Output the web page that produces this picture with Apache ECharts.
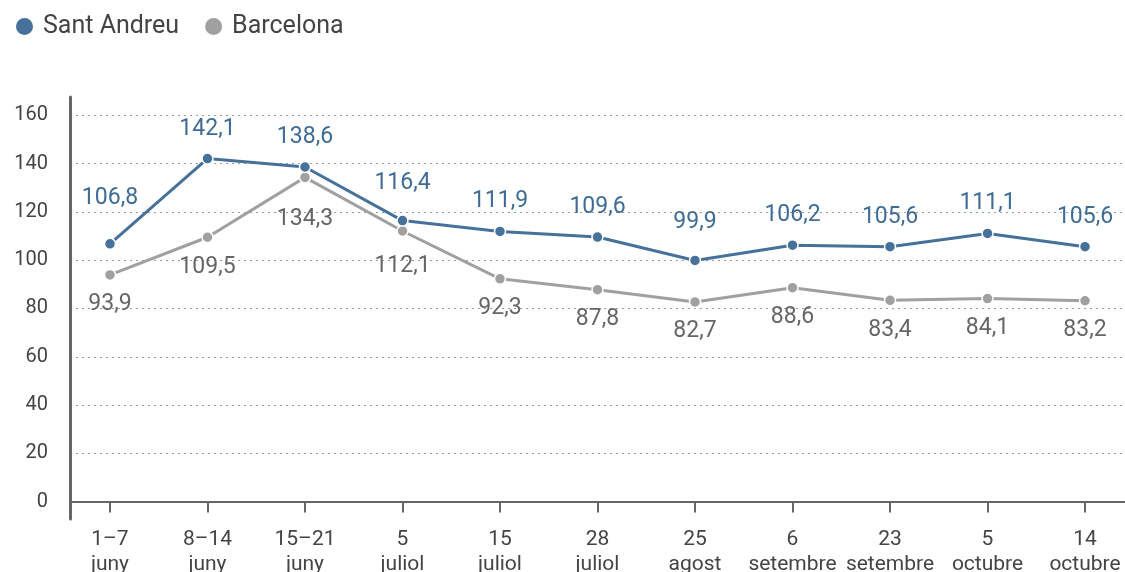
<!DOCTYPE html>
<html>
<head>
<meta charset="utf-8">
<script src="https://cdn.jsdelivr.net/npm/echarts@6/dist/echarts.min.js"></script>
<style>
  html, body { margin: 0; padding: 0; background: #fff; }
  #chart { width: 1125px; height: 572px; }
</style>
</head>
<body>
<div id="chart"></div>
<script>
// dades
const categories = ['1–7\njuny', '8–14\njuny', '15–21\njuny', '5\njuliol', '15\njuliol', '28\njuliol', '25\nagost', '6\nsetembre', '23\nsetembre', '5\noctubre', '14\noctubre']
const santAndreu = [106.8, 142.1, 138.6, 116.4, 111.9, 109.6, 99.9, 106.2, 105.6, 111.1, 105.6]
const barcelona = [93.9, 109.5, 134.3, 112.1, 92.3, 87.8, 82.7, 88.6, 83.4, 84.1, 83.2]
const yTicks = [0, 20, 40, 60, 80, 100, 120, 140, 160]

const FONT = 'Roboto, "Noto Sans", sans-serif'
const BLUE = '#46719a'
const GREY = '#a0a0a0'
const fmt = v => v.toFixed(1).replace('.', ',')

const chart = echarts.init(document.getElementById('chart'))

// labels that sit further from their point than the rest
const saDist = { 0: 28, 3: 20, 6: 20 }
const bcnDist = { 2: 24, 3: 18 }

const mkSeries = (name, values, color, labelColor, pos, dist) => ({
  name,
  type: 'line',
  data: values.map((v, i) => dist[i] != null
    ? { value: [i, v], label: { distance: dist[i] } }
    : [i, v]),
  symbol: 'circle',
  symbolSize: 11,
  lineStyle: { color, width: 3 },
  itemStyle: { color, borderColor: '#fff', borderWidth: 1.5 },
  label: {
    show: true,
    position: pos,
    distance: 12,
    color: labelColor,
    fontSize: 23,
    fontFamily: FONT,
    formatter: p => fmt(p.value[1])
  },
  emphasis: { disabled: true },
  z: name === 'Sant Andreu' ? 3 : 2
})

const catIdx = categories.map((c, i) => i)

chart.setOption({
  animation: false,
  textStyle: { fontFamily: FONT },
  legend: {
    left: 9,
    top: 9,
    icon: 'circle',
    itemWidth: 19,
    itemHeight: 19,
    itemGap: 24,
    textStyle: { fontSize: 25, color: '#444', fontFamily: FONT, padding: [0, 0, 0, 4] },
    data: ['Sant Andreu', 'Barcelona']
  },
  grid: { left: 70, right: 0, top: 97, bottom: 53, outerBoundsMode: 'none', containLabel: false },
  xAxis: {
    type: 'value',
    min: -0.41,
    max: 10.41,
    axisLine: { show: true, onZero: true, lineStyle: { color: '#666', width: 2 } },
    axisTick: {
      show: true,
      inside: false,
      length: 11,
      customValues: catIdx,
      lineStyle: { color: '#666', width: 2 }
    },
    axisLabel: {
      customValues: catIdx,
      formatter: v => categories[Math.round(v)],
      color: '#444',
      fontSize: 21,
      lineHeight: 25,
      margin: 8,
      fontFamily: FONT
    },
    splitLine: { show: false }
  },
  yAxis: {
    type: 'value',
    min: -7.2,
    max: 167.6,
    axisLine: { show: true, onZero: false, lineStyle: { color: '#666', width: 3 } },
    axisTick: { show: false, customValues: yTicks },
    axisLabel: {
      customValues: yTicks,
      color: '#444',
      fontSize: 20,
      margin: 22,
      fontFamily: FONT
    },
    splitLine: {
      show: true,
      lineStyle: { color: '#999', type: [2, 4], width: 1 }
    }
  },
  series: [
    mkSeries('Sant Andreu', santAndreu, BLUE, '#3f6c95', 'top', saDist),
    mkSeries('Barcelona', barcelona, GREY, '#666', 'bottom', bcnDist)
  ]
})
</script>
</body>
</html>
